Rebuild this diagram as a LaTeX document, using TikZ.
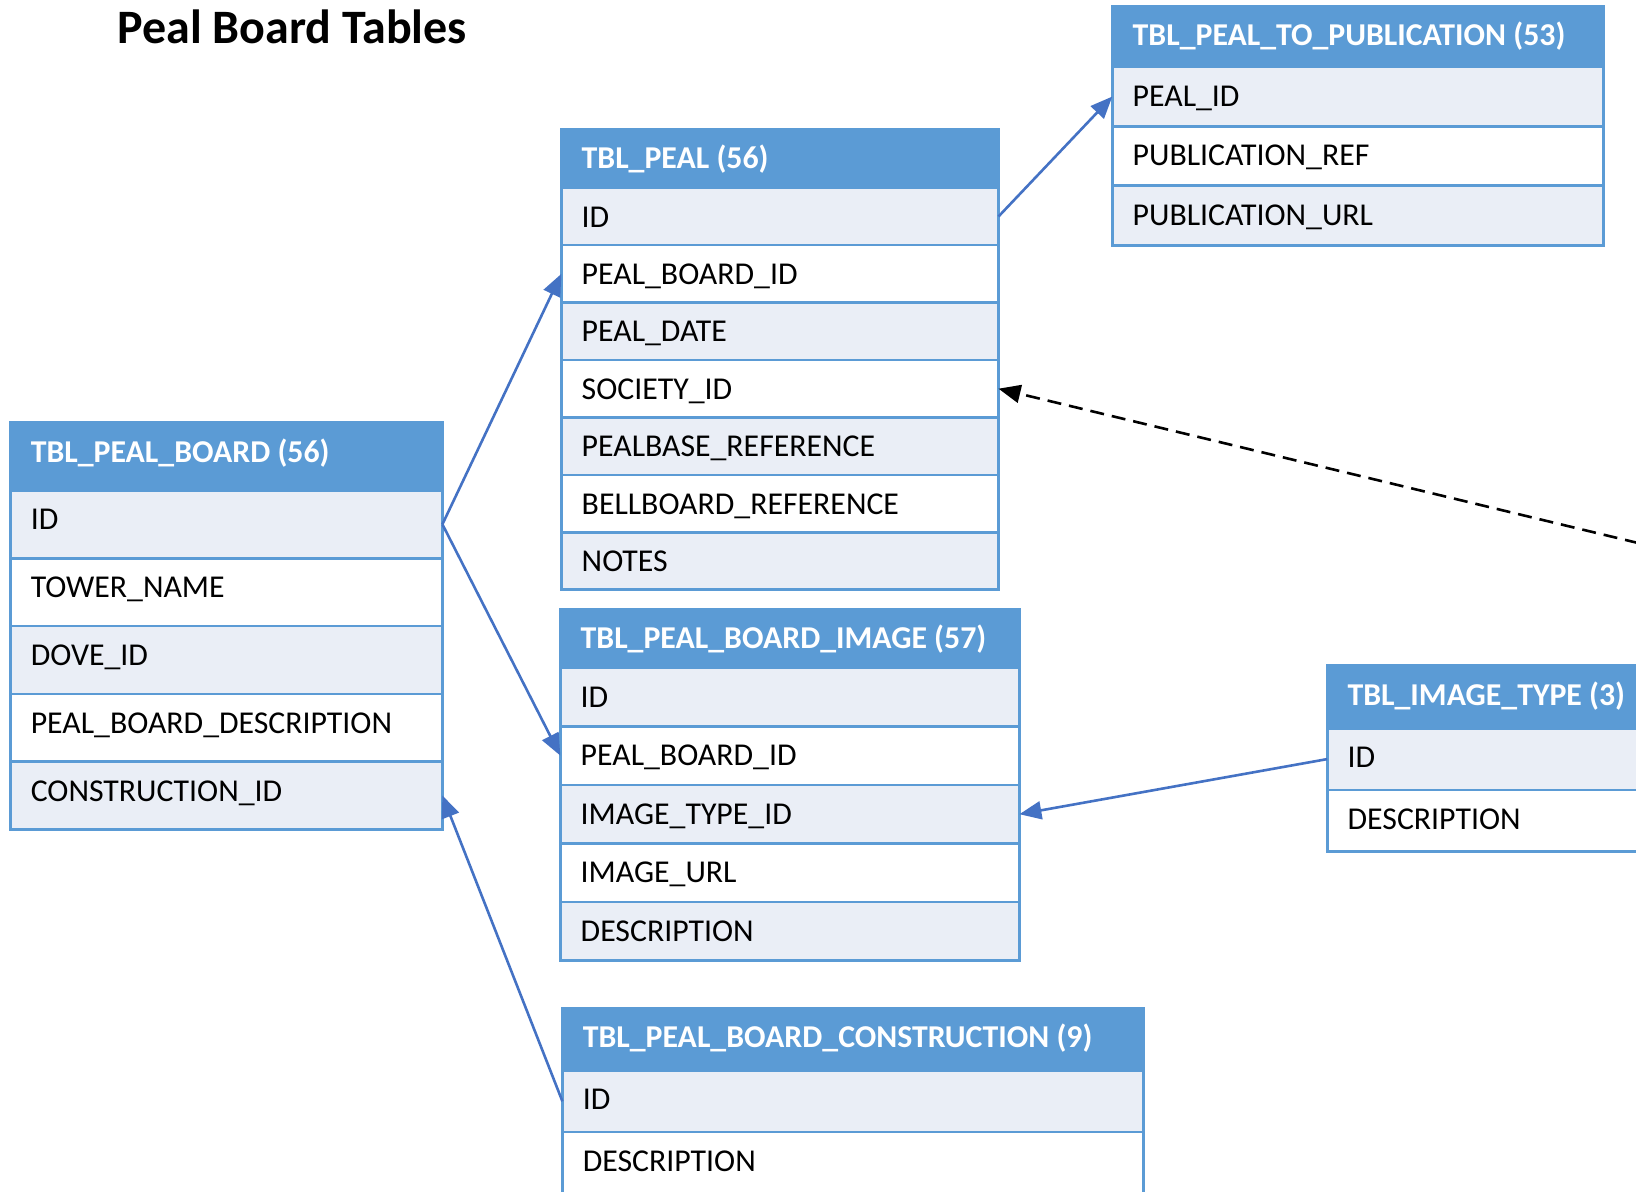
\documentclass[tikz,border=0pt]{standalone}
\usepackage{fontspec}
\setmainfont{Carlito}
\usetikzlibrary{arrows.meta}
\definecolor{hdrblue}{HTML}{5B9BD5}
\definecolor{bandfill}{HTML}{EAEEF6}
\definecolor{linkblue}{HTML}{4472C4}
\newcommand\tblfont{\fontsize{15.9}{19}\selectfont}
\tikzset{
  cellbox/.style={draw=hdrblue, line width=1.3pt, anchor=north west, inner sep=0pt, outer sep=0pt},
  celltext/.style={anchor=base west, inner sep=0pt, font=\tblfont},
  link/.style={draw=linkblue, line width=1.3pt, -{Triangle[length=11pt,width=9pt]}},
  dlink/.style={draw=black, line width=1.3pt, dash pattern=on 7pt off 4pt, -{Triangle[length=11pt,width=9pt]}},
}
\newcommand\dbtab[8]{%
  \node[cellbox, fill=hdrblue, minimum width=#4*0.5pt, minimum height=#5*0.5pt] (#1-h) at (#2,#3) {};
  \node[celltext, text=white, font=\tblfont\bfseries] (#1-ht) at ([xshift=10pt,yshift=-19.7pt]#1-h.north west) {#7};
  \foreach \t [count=\i] in {#8} {
    \pgfmathsetmacro\yy{#3+#5+(\i-1)*#6}
    \ifodd\i\def\rf{bandfill}\else\def\rf{white}\fi
    \node[cellbox, fill=\rf, minimum width=#4*0.5pt, minimum height=#6*0.5pt] (#1-\i) at (#2,\yy) {};
    \node[celltext] (#1-\i-t) at ([xshift=10pt,yshift=-19.7pt]#1-\i.north west) {\t};
  }
}
\begin{document}
\begin{tikzpicture}[x=0.5pt, y=-0.5pt]
\useasboundingbox (0,0) rectangle (1636,1192);
\clip (0,0) rectangle (1636,1192);
\node[font=\fontsize{24}{28}\selectfont\bfseries, anchor=base west, inner sep=0pt] (title) at (117,44) {Peal Board Tables};
\dbtab{pb}{10.4}{422.6}{432}{67.8}{67.8}{TBL\_PEAL\_BOARD (56)}{ID,TOWER\_NAME,DOVE\_ID,PEAL\_BOARD\_DESCRIPTION,CONSTRUCTION\_ID}
\dbtab{peal}{561.3}{129.4}{437.2}{58.4}{57.4}{TBL\_PEAL (56)}{ID,PEAL\_BOARD\_ID,PEAL\_DATE,SOCIETY\_ID,PEALBASE\_REFERENCE,BELLBOARD\_REFERENCE,NOTES}
\dbtab{pub}{1112.3}{6.3}{491.4}{60.5}{59.5}{TBL\_PEAL\_TO\_PUBLICATION (53)}{PEAL\_ID,PUBLICATION\_REF,PUBLICATION\_URL}
\dbtab{img}{560.3}{609.3}{459.1}{58.4}{58.6}{TBL\_PEAL\_BOARD\_IMAGE (57)}{ID,PEAL\_BOARD\_ID,IMAGE\_TYPE\_ID,IMAGE\_URL,DESCRIPTION}
\dbtab{con}{562.4}{1007.9}{581.2}{62.6}{61.6}{TBL\_PEAL\_BOARD\_CONSTRUCTION (9)}{ID,DESCRIPTION}
\dbtab{typ}{1327.2}{665.7}{340}{62.6}{61.6}{TBL\_IMAGE\_TYPE (3)}{ID,DESCRIPTION}
\draw[link] (pb-1.east) -- (peal-2.west);
\draw[link] (pb-1.east) -- (img-2.west);
\draw[link] (con-1.west) -- (pb-5.east);
\draw[link] (peal-1.east) -- (pub-1.west);
\draw[link] (typ-1.west) -- (img-3.east);
\coordinate (socsrc) at (1660,548.3);
\draw[dlink] (socsrc) -- (peal-4.east);
\end{tikzpicture}
\end{document}
